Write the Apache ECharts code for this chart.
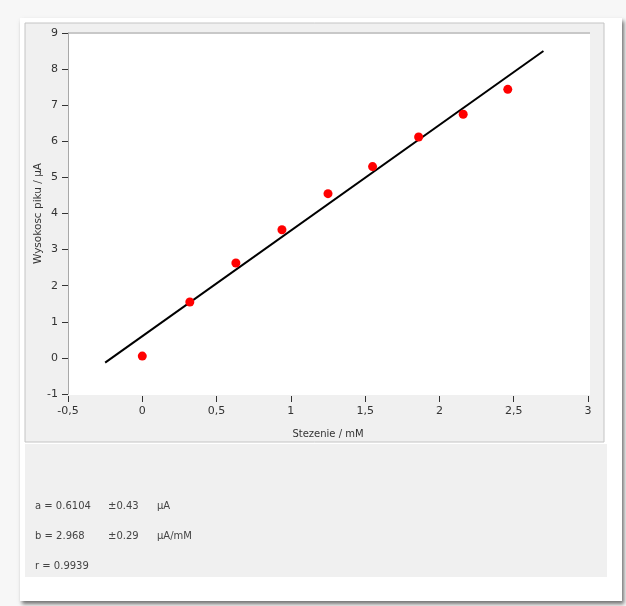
<!DOCTYPE html>
<html>
<head>
<meta charset="utf-8">
<title>Kalibracja</title>
<script src="https://cdn.jsdelivr.net/npm/echarts@6/dist/echarts.min.js"></script>
<style>
    html, body { margin: 0; padding: 0; background: #f7f7f7; }
    #main { width: 626px; height: 606px; }
</style>
</head>
<body>
<div id="main"></div>
<script>
// punkty pomiarowe
var stezenie = [0, 0.32, 0.63, 0.94, 1.25, 1.55, 1.86, 2.16, 2.46];
var wysokosc = [0.05, 1.55, 2.63, 3.55, 4.55, 5.3, 6.12, 6.75, 7.44];

// prosta kalibracyjna (odczytane konce)
var fitX = [-0.25, 2.7];
var fitY = [-0.13, 8.5];

// parametry dopasowania
var paramNames = ['a', 'b', 'r'];
var paramValues = ['0.6104', '2.968', '0.9939'];
var paramErrors = ['0.43', '0.29', ''];
var paramUnits = ['µA', 'µA/mM', ''];

var points = stezenie.map(function (x, i) { return [x, wysokosc[i]]; });
var fitLine = fitX.map(function (x, i) { return [x, fitY[i]]; });

function comma(v) {
    return String(v).replace('.', ',');
}

var font = 'DejaVu Sans';

// tlo okna i panele
var graphics = [
    {
        type: 'rect', z: -10,
        shape: { x: 20, y: 18, width: 602, height: 583 },
        style: { fill: '#ffffff', shadowBlur: 4, shadowOffsetX: 2, shadowOffsetY: 3, shadowColor: 'rgba(0,0,0,0.55)' }
    },
    {
        type: 'rect', z: -9,
        shape: { x: 25, y: 23, width: 579, height: 419 },
        style: { fill: '#f0f0f0', stroke: '#c4c4c4', lineWidth: 1 }
    },
    {
        type: 'rect', z: -9,
        shape: { x: 25, y: 444, width: 582, height: 133 },
        style: { fill: '#f0f0f0' }
    },
    {
        type: 'rect', z: -8,
        shape: { x: 68, y: 33, width: 522, height: 362 },
        style: { fill: '#ffffff' }
    },
    {
        type: 'rect', z: -7,
        shape: { x: 68, y: 32, width: 522, height: 2 },
        style: { fill: '#c8c8c8' }
    }
];

for (var i = 0; i < paramNames.length; i++) {
    var y = 507 + i * 30;
    graphics.push({
        type: 'text', left: 35, top: y - 6,
        style: { text: paramNames[i] + ' = ' + paramValues[i], fill: '#444', font: '10px ' + font }
    });
    if (paramErrors[i]) {
        graphics.push({
            type: 'text', left: 108, top: y - 6,
            style: { text: '±' + paramErrors[i], fill: '#444', font: '10px ' + font }
        });
        graphics.push({
            type: 'text', left: 157, top: y - 6,
            style: { text: paramUnits[i], fill: '#444', font: '10px ' + font }
        });
    }
}

var option = {
    animation: false,
    textStyle: { fontFamily: font },
    graphic: graphics,
    grid: {
        left: 68,
        top: 33,
        width: 520,
        height: 361
    },
    xAxis: {
        type: 'value',
        min: -0.5,
        max: 3,
        interval: 0.5,
        offset: 2,
        name: 'Stezenie / mM',
        nameLocation: 'middle',
        nameGap: 33,
        nameTextStyle: { color: '#333', fontSize: 10, fontFamily: font },
        axisLine: { show: false, onZero: false },
        axisTick: { show: true, length: 6, lineStyle: { color: '#333', width: 1 } },
        axisLabel: {
            color: '#333',
            fontSize: 11,
            margin: 10,
            formatter: function (v) { return comma(v); }
        },
        splitLine: { show: false }
    },
    yAxis: {
        type: 'value',
        min: -1,
        max: 9,
        interval: 1,
        name: 'Wysokosc piku / µA',
        nameLocation: 'middle',
        nameGap: 24,
        nameMoveOverlap: false,
        nameTextStyle: { color: '#333', fontSize: 10.5, fontFamily: font },
        axisLine: { show: true, onZero: false, lineStyle: { color: '#a8a8a8', width: 1 } },
        axisTick: { show: true, length: 6, lineStyle: { color: '#333', width: 1 } },
        axisLabel: {
            color: '#333',
            fontSize: 11,
            margin: 10
        },
        splitLine: { show: false }
    },
    series: [
        {
            name: 'dopasowanie',
            type: 'line',
            data: fitLine,
            symbol: 'none',
            lineStyle: { color: '#000', width: 2 },
            z: 2
        },
        {
            name: 'pomiary',
            type: 'scatter',
            data: points,
            symbolSize: 9,
            itemStyle: { color: '#ff0000', opacity: 1 },
            z: 3
        }
    ]
};

var chart = echarts.init(document.getElementById('main'));
chart.setOption(option);
</script>
</body>
</html>
